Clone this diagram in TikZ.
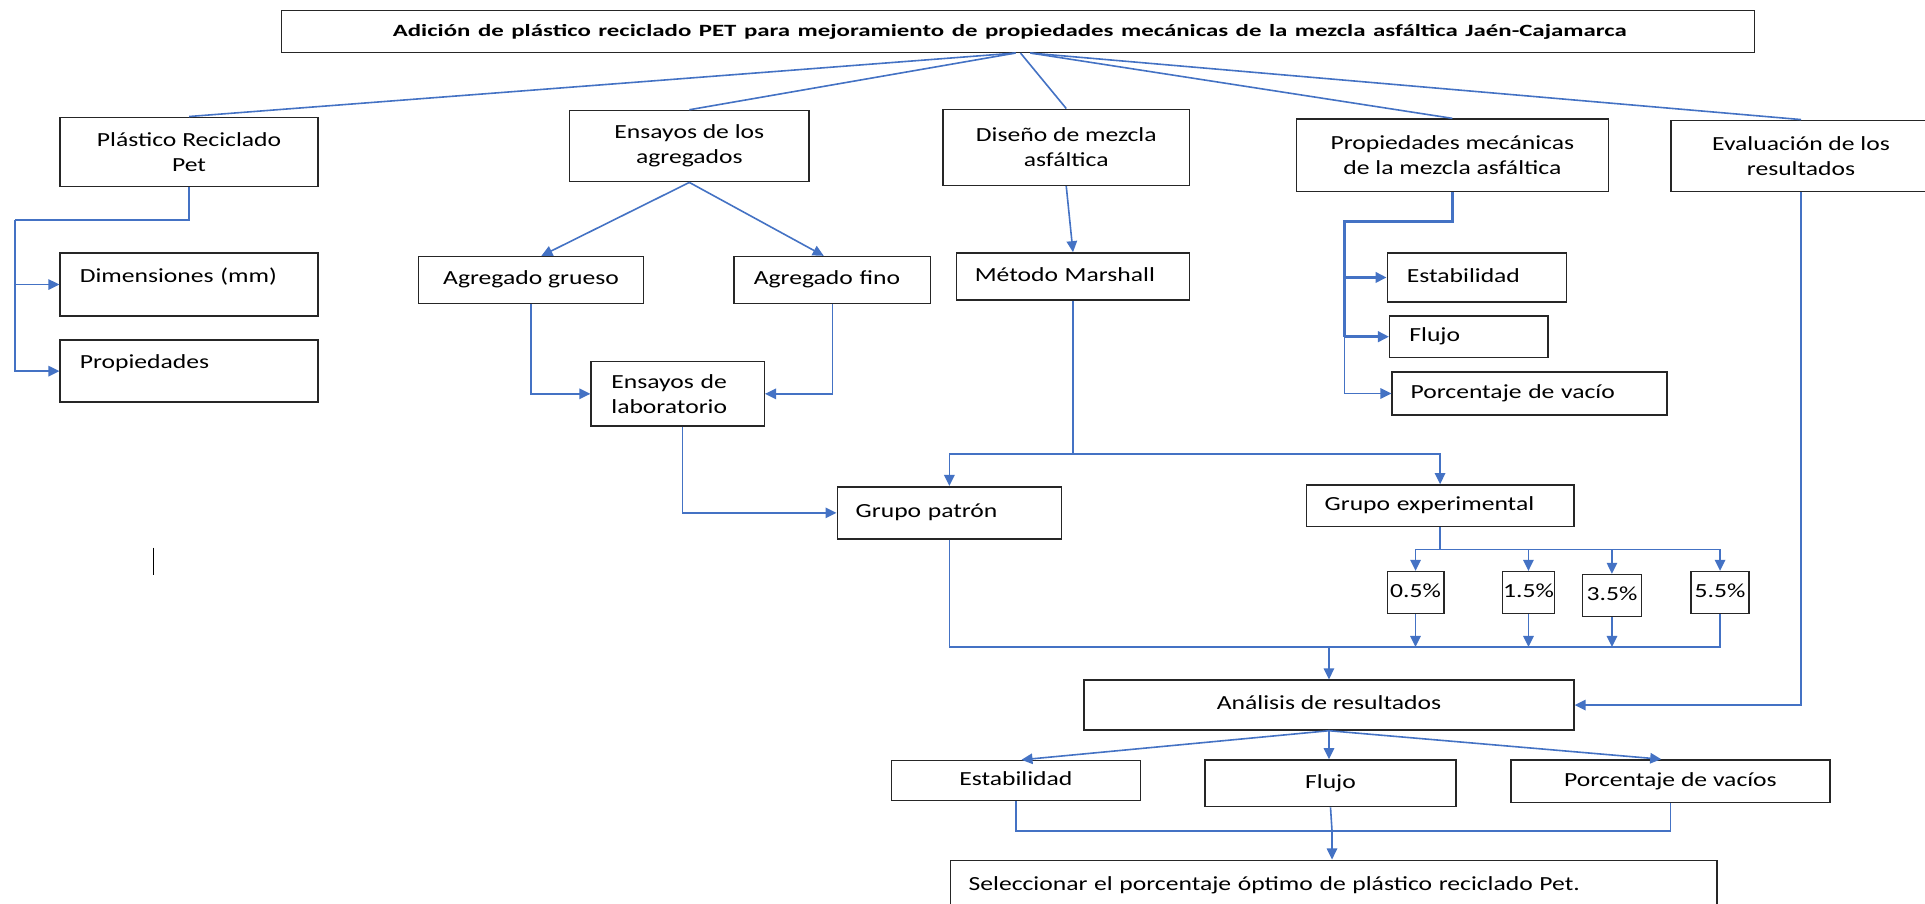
\documentclass[tikz,border=0pt]{standalone}
\usepackage{fontspec}
\setmainfont{Carlito}[FakeStretch=1.28]
\usepackage{graphicx}
\usetikzlibrary{arrows.meta}
\definecolor{lnblue}{HTML}{4472C4}
\tikzset{
  box/.style={draw=black!85, line width=1.2pt, rectangle, inner sep=0pt,
    font=\fontsize{16.3}{20.3}\selectfont, align=center},
  one/.style={text height=12pt, text depth=4pt},
  conn/.style={draw=lnblue, line width=1.3pt},
  arr/.style={conn, -{Triangle[length=9pt,width=8.5pt]}},
  thk/.style={draw=lnblue, line width=2.6pt},
  tharr/.style={draw=lnblue, line width=2.2pt, -{Triangle[length=9pt,width=8.5pt]}},
}
\newcommand{\bx}[7][]{\node[box,minimum width={#5-#3},minimum height={#6-#4},#1] (#2) at ({(#3+#5)/2},{(#4+#6)/2}) {#7};}
\begin{document}
\begin{tikzpicture}[x=1pt,y=-1pt]
\fill[white] (0,0) rectangle (1568,736);
\useasboundingbox (0,0) rectangle (1568,736);

% title
\bx[align=left,text width=1018.5pt,inner xsep=90.5pt]{T}{229.5}{8.7}{1429}{42.6}{\bfseries\fontsize{14}{17}\selectfont\resizebox{1005pt}{\height}{Adición de plástico reciclado PET para mejoramiento de propiedades mecánicas de la mezcla asfáltica Jaén-Cajamarca}}

% level 1
\bx{A}{49}{95.5}{259}{152}{Plástico Reciclado\\Pet}
\bx{B}{464}{90}{659}{148}{Ensayos de los\\agregados}
\bx{C}{768}{89}{969}{151}{Diseño de mezcla\\asfáltica}
\bx{D}{1056}{97}{1310}{156}{Propiedades mecánicas\\de la mezcla asfáltica}
\bx{E}{1361}{98}{1573}{156}{Evaluación de los\\resultados}

% children of A
\bx[align=left,text width=178pt,inner xsep=16pt,text height=12pt,text depth=16pt]{Dim}{49}{206}{259}{257.5}{Dimensiones (mm)}
\bx[align=left,text width=178pt,inner xsep=16pt,text height=12pt,text depth=16pt]{Prop}{49}{277}{259}{327.6}{Propiedades}

% children of B
\bx[one]{AG}{341}{209}{524}{247}{Agregado grueso}
\bx[one,align=left,text width=128pt,inner xsep=16pt]{AF}{598}{209}{758}{247}{Agregado fino}
\bx[align=left,text width=108pt,inner xsep=16.5pt]{Lab}{481.5}{294.6}{622.5}{347}{Ensayos de\\laboratorio}

% child of C
\bx[one,align=left,text width=160pt,inner xsep=15pt]{MM}{779}{206}{969}{244.5}{Método Marshall}

% children of D
\bx[one,align=left,text width=114pt,inner xsep=16pt]{DES}{1130}{206}{1276}{246}{Estabilidad}
\bx[one,align=left,text width=97pt,inner xsep=16pt]{DFL}{1132}{257.5}{1261}{291}{Flujo}
\bx[one,align=left,text width=194pt,inner xsep=15pt]{DPV}{1134}{303}{1358}{338}{Porcentaje de vacío}

% groups
\bx[one,align=left,text width=152.6pt,inner xsep=15pt]{GP}{682}{396.5}{864.6}{439}{Grupo patrón}
\bx[one,align=left,text width=188pt,inner xsep=15pt]{GE}{1064}{395}{1282}{429}{Grupo experimental}

% percentages
\bx[one]{P05}{1130}{465.6}{1176}{499.6}{0.5\%}
\bx[one]{P15}{1224}{465.6}{1266}{499.6}{1.5\%}
\bx[one]{P35}{1289}{468}{1337}{502}{3.5\%}
\bx[one]{P55}{1377.5}{465.6}{1424.6}{499.6}{5.5\%}

% analysis
\bx[one]{AN}{883}{554}{1282}{594.6}{Análisis de resultados}
\bx[one]{ES}{726}{619.5}{929}{652}{Estabilidad}
\bx[one]{FL}{981.5}{619}{1186}{657}{Flujo}
\bx[one]{PV}{1230.6}{619}{1490.7}{653.6}{Porcentaje de vacíos}
\bx[one,align=left,text width=594.5pt,inner xsep=15pt]{SE}{774}{700.7}{1398.5}{742}{Seleccionar el porcentaje óptimo de plástico reciclado Pet.}

% connectors from title
\draw[conn] ([xshift=-2pt]T.south) -- (A.north);
\draw[conn] ([xshift=-2pt]T.south) -- (B.north);
\draw[conn] ([xshift=2pt]T.south) -- (C.north);
\draw[conn] ([xshift=10pt]T.south) -- (D.north);
\draw[conn] ([xshift=10pt]T.south) -- (E.north);

% A branch
\coordinate (a1) at (12,179);
\draw[conn] (A.south) |- (a1);
\draw[arr] (a1) |- (Dim.west);
\draw[arr] (a1) |- (Prop.west);

% B branch
\draw[arr] (B.south) -- ([xshift=8.5pt]AG.north);
\draw[arr] (B.south) -- ([xshift=-7pt]AF.north);
\draw[arr] (AG.south) |- (Lab.west);
\draw[arr] (AF.south) |- (Lab.east);
\draw[arr] ([xshift=4pt]Lab.south) |- (GP.west);

% C branch
\draw[arr] (C.south) -- (MM.north);
\coordinate (m1) at (874,370);
\draw[conn] (MM.south) -- (m1);
\draw[arr] (m1) -| (GP.north);
\draw[arr] (m1) -| (GE.north);

% D branch
\coordinate (d1) at (1095,180.5);
\coordinate (d2) at (1095,274.25);
\draw[thk] (D.south) |- (d1) -- (d2);
\draw[tharr] (d1 |- DES.west) -- (DES.west);
\draw[tharr] (d2) -- (DFL.west);
\draw[arr] (d2) |- (DPV.west);

% experimental group
\coordinate (g1) at (1173,447.5);
\draw[conn] (GE.south) -- (g1);
\draw[arr] (g1) -| (P05.north);
\draw[arr] (g1) -| (P15.north);
\draw[arr] (g1) -| (P35.north);
\draw[arr] (g1) -| (P55.north);

% collecting line
\coordinate (c1) at (1082.5,527);
\draw[conn] (GP.south) |- (c1);
\draw[conn] (P55.south) |- (c1);
\draw[arr] (P05.south) -- (P05.south |- c1);
\draw[arr] (P15.south) -- (P15.south |- c1);
\draw[arr] (P35.south) -- (P35.south |- c1);
\draw[arr] (c1) -- (AN.north);

% evaluation
\draw[arr] (E.south) |- (AN.east);

% analysis outputs
\draw[arr] (AN.south) -- ([xshift=4.5pt]ES.north);
\draw[arr] (AN.south) -- (AN.south |- FL.north);
\draw[arr] (AN.south) -- ([xshift=-7.5pt]PV.north);

% final
\coordinate (s1) at (1085,677);
\draw[conn] (ES.south) |- (s1);
\draw[conn] (PV.south) |- (s1);
\draw[conn] (FL.south) -- (s1);
\draw[arr] (s1) -- (s1 |- SE.north);

% stray mark
\draw[black, line width=1.2pt] (125,446) -- (125,468);
\end{tikzpicture}
\end{document}
